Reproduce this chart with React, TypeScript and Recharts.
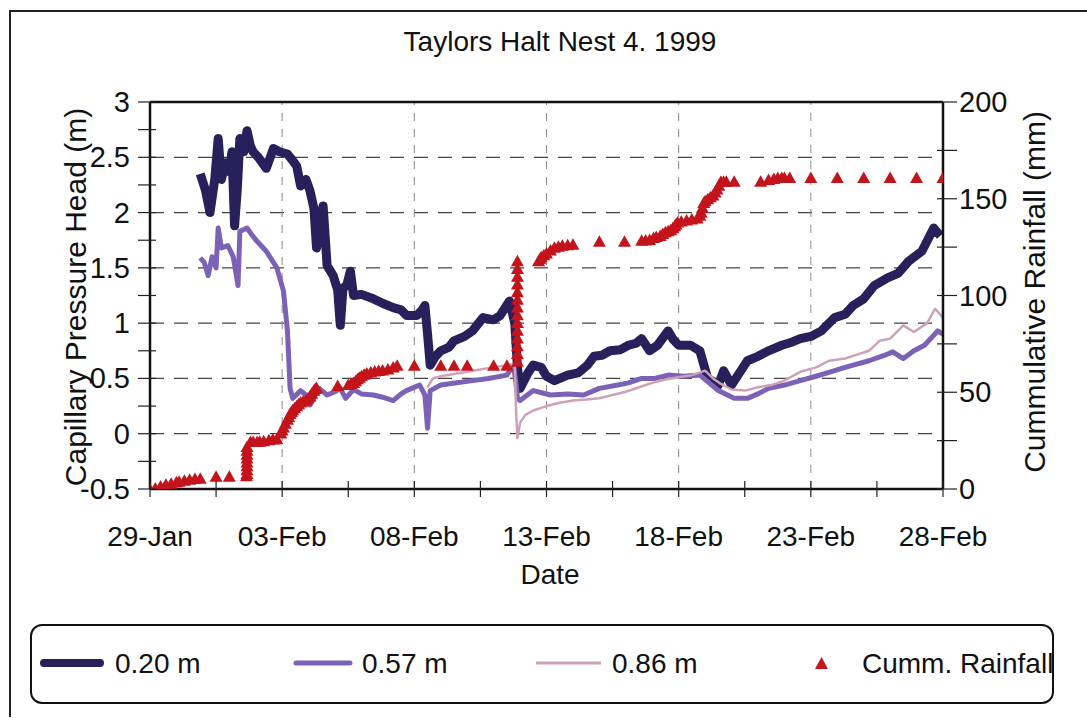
import React from 'react';
import { ComposedChart, Line, Scatter, XAxis, YAxis, ReferenceLine } from 'recharts';

const FONT = "'Liberation Sans', Arial, sans-serif";

// x axis: days after 29-Jan 1999
const dateLabels = ['29-Jan', '03-Feb', '08-Feb', '13-Feb', '18-Feb', '23-Feb', '28-Feb'];
const dayTicks = [0, 2.5, 5, 7.5, 10, 12.5, 15, 17.5, 20, 22.5, 25, 27.5, 30];
const headTicks = [-0.5, -0.25, 0, 0.25, 0.5, 0.75, 1, 1.25, 1.5, 1.75, 2, 2.25, 2.5, 2.75, 3];
const rainTicks = [0, 25, 50, 75, 100, 125, 150, 175, 200];
const headGrid = [0, 0.5, 1, 1.5, 2, 2.5];
const dayGrid = [5, 10, 15, 20, 25];

// 0.20 m tensiometer
const days20 = [1.9, 2.1, 2.27, 2.45, 2.58, 2.7, 2.85, 3.0, 3.1, 3.2, 3.3, 3.4, 3.55, 3.67, 3.8, 3.9, 4.1, 4.4, 4.55, 4.67, 4.9, 5.2, 5.4, 5.55, 5.7, 5.9, 6.05, 6.2, 6.3, 6.45, 6.55, 6.7, 6.93, 7.1, 7.2, 7.3, 7.45, 7.58, 7.7, 8.0, 8.45, 8.8, 9.2, 9.5, 9.7, 10.1, 10.3, 10.4, 10.5, 10.6, 10.8, 11.0, 11.3, 11.5, 11.9, 12.2, 12.6, 13.0, 13.25, 13.6, 13.8, 13.9, 14.0, 14.3, 14.5, 14.8, 15.0, 15.3, 15.8, 16.2, 16.55, 16.8, 17.1, 17.4, 17.8, 18.1, 18.4, 18.6, 18.9, 19.2, 19.6, 19.8, 20.0, 20.45, 20.8, 21.1, 21.5, 21.7, 22.0, 22.3, 22.6, 23.0, 23.4, 23.9, 24.3, 24.6, 25.0, 25.4, 25.9, 26.3, 26.6, 27.0, 27.4, 27.9, 28.3, 28.7, 29.2, 29.65, 29.9];
const head20 = [2.35, 2.2, 2.0, 2.3, 2.67, 2.3, 2.45, 2.37, 2.55, 1.88, 2.2, 2.67, 2.55, 2.74, 2.6, 2.55, 2.5, 2.4, 2.5, 2.58, 2.55, 2.53, 2.47, 2.42, 2.24, 2.3, 2.2, 2.04, 1.68, 1.9, 2.06, 1.52, 1.43, 1.3, 0.98, 1.31, 1.35, 1.47, 1.25, 1.26, 1.22, 1.18, 1.14, 1.12, 1.07, 1.07, 1.12, 1.16, 0.9, 0.62, 0.7, 0.75, 0.78, 0.84, 0.88, 0.93, 1.05, 1.03, 1.07, 1.2, 1.0, 0.6, 0.41, 0.55, 0.62, 0.6, 0.52, 0.48, 0.53, 0.55, 0.62, 0.7, 0.71, 0.75, 0.76, 0.8, 0.82, 0.86, 0.75, 0.8, 0.93, 0.85, 0.8, 0.8, 0.75, 0.5, 0.44, 0.57, 0.44, 0.55, 0.66, 0.7, 0.75, 0.8, 0.83, 0.86, 0.88, 0.93, 1.05, 1.08, 1.16, 1.22, 1.34, 1.41, 1.45, 1.56, 1.65, 1.86, 1.79];

// 0.57 m tensiometer
const days57 = [1.9, 2.05, 2.2, 2.35, 2.5, 2.58, 2.7, 2.95, 3.15, 3.33, 3.4, 3.67, 3.85, 4.05, 4.4, 4.8, 5.05, 5.2, 5.3, 5.4, 5.7, 5.9, 6.06, 6.25, 6.4, 6.7, 7.0, 7.2, 7.4, 7.7, 8.0, 8.45, 8.8, 9.2, 9.5, 9.7, 10.2, 10.4, 10.5, 10.6, 11.0, 11.6, 12.2, 12.8, 13.5, 13.75, 13.85, 13.9, 14.0, 14.5, 15.15, 15.8, 16.4, 17.0, 17.7, 18.1, 18.6, 19.1, 19.6, 20.2, 20.8, 21.2, 21.5, 22.1, 22.6, 23.0, 23.4, 24.0, 24.6, 25.2, 25.9, 26.3, 26.6, 27.2, 27.8, 28.1, 28.5, 28.9, 29.3, 29.8, 30.0];
const head57 = [1.59, 1.55, 1.43, 1.6, 1.5, 1.86, 1.68, 1.7, 1.6, 1.34, 1.83, 1.86, 1.8, 1.74, 1.65, 1.5, 1.29, 0.93, 0.41, 0.32, 0.39, 0.35, 0.26, 0.35, 0.41, 0.35, 0.38, 0.41, 0.32, 0.4, 0.36, 0.35, 0.33, 0.3, 0.36, 0.39, 0.44, 0.35, 0.05, 0.39, 0.44, 0.46, 0.48, 0.5, 0.53, 0.62, 0.45, 0.32, 0.3, 0.39, 0.35, 0.36, 0.35, 0.41, 0.44, 0.46, 0.5, 0.5, 0.53, 0.52, 0.53, 0.45, 0.39, 0.32, 0.32, 0.36, 0.41, 0.44, 0.48, 0.52, 0.57, 0.6, 0.62, 0.66, 0.71, 0.74, 0.68, 0.75, 0.8, 0.93, 0.9];

// 0.86 m tensiometer
const days86 = [10.5, 10.7, 11.0, 11.5, 12.0, 12.5, 13.0, 13.5, 13.8, 13.85, 13.9, 14.0, 14.2, 14.5, 15.0, 15.5, 16.0, 16.5, 17.0, 17.5, 18.0, 18.5, 19.0, 19.5, 20.0, 20.5, 21.0, 21.3, 21.6, 22.0, 22.5, 23.0, 23.5, 24.0, 24.6, 25.2, 25.7, 26.3, 26.8, 27.2, 27.6, 28.0, 28.5, 28.9, 29.4, 29.7, 30.0];
const head86 = [0.42, 0.5, 0.52, 0.54, 0.56, 0.58, 0.6, 0.62, 0.63, 0.2, -0.04, 0.1, 0.17, 0.21, 0.25, 0.28, 0.3, 0.31, 0.32, 0.35, 0.38, 0.42, 0.46, 0.49, 0.51, 0.53, 0.57, 0.5, 0.45, 0.4, 0.39, 0.42, 0.44, 0.48, 0.56, 0.6, 0.66, 0.68, 0.72, 0.75, 0.84, 0.86, 0.98, 0.92, 1.0, 1.13, 1.05];

// cumulative rainfall (mm): [day, mm]
const rainfall: [number, number][] = [
	[0, 0], [0.2, 0.5], [0.4, 1.5], [0.6, 2.5], [0.8, 3], [1.0, 3.8], [1.1, 4], [1.3, 4.5], [1.5, 5], [1.7, 5.4], [1.9, 5.6], [2.5, 6.6], [3.0, 6.6],
	[3.65, 6.8], [3.67, 8], [3.67, 10], [3.67, 12], [3.67, 14], [3.67, 16], [3.67, 18], [3.67, 20], [3.67, 22],
	[3.8, 24.5], [3.9, 24.5], [4.05, 24.5], [4.15, 24.7], [4.3, 25], [4.5, 25.5], [4.65, 25.8], [4.8, 26], [4.95, 29], [5.0, 30.5],
	[5.05, 32], [5.12, 34], [5.2, 36], [5.25, 37.5], [5.3, 39], [5.35, 40], [5.4, 41], [5.47, 42], [5.55, 43], [5.62, 44], [5.7, 45],
	[5.8, 45.5], [5.9, 46], [5.98, 47], [6.05, 48], [6.12, 49.5], [6.2, 51], [6.25, 52], [6.3, 52.5], [7.1, 53.5], [7.5, 54], [7.6, 54.5],
	[7.7, 55], [7.78, 56], [7.85, 57], [7.92, 57.8], [8.0, 58.5], [8.1, 59.3], [8.2, 60], [8.35, 60.5], [8.5, 61], [8.65, 61.2], [8.8, 61.5],
	[9.0, 62], [9.2, 63], [9.35, 64], [10.0, 64], [11.0, 64], [11.5, 64], [12.0, 64], [13.0, 64], [13.5, 64],
	[13.9, 66], [13.9, 70], [13.9, 74], [13.9, 78], [13.9, 82], [13.9, 86], [13.9, 90], [13.9, 94], [13.9, 98], [13.9, 102], [13.9, 106], [13.9, 110], [13.9, 114], [13.9, 118],
	[14.7, 118], [14.75, 119], [14.8, 120], [14.9, 121], [15.0, 122], [15.15, 123.5], [15.3, 125], [15.45, 125.5], [15.6, 126], [15.8, 126.2], [16.0, 126.5],
	[17.0, 128], [17.95, 128], [18.6, 128.5], [18.75, 128.7], [18.9, 129], [19.05, 130], [19.15, 130.5], [19.3, 131], [19.4, 132], [19.5, 133], [19.6, 133.5],
	[19.7, 134], [19.78, 135], [19.85, 136], [19.9, 137], [19.96, 138], [20.1, 138.5], [20.3, 139], [20.5, 139.5], [20.7, 140], [20.8, 141.5], [20.85, 143],
	[20.9, 145.5], [20.95, 148], [21.0, 149], [21.1, 150], [21.2, 151], [21.3, 152], [21.38, 153.5], [21.45, 155], [21.52, 157], [21.6, 159], [21.7, 159],
	[21.8, 159], [22.1, 159], [23.1, 159], [23.4, 160], [23.6, 160.5], [23.75, 161], [23.9, 161], [24.0, 161], [24.2, 161],
	[25, 161], [26, 161], [27, 161], [28, 161], [29, 161], [30, 161],
];

const pairs = (xs: number[], ys: number[]) => xs.map((d, i) => ({ d, v: ys[i] }));

const XTick = (props: any) => {
	const { x, y, payload } = props;
	const idx = payload.value / 5;
	return (
		<g>
			<line x1={x} x2={x} y1={y - 8} y2={y + 8} stroke="#222" strokeWidth={1.2} />
			{Number.isInteger(idx) && (
				<text x={x} y={y + 57} textAnchor="middle" fontSize={28} fill="#111" fontFamily={FONT}>
					{dateLabels[idx]}
				</text>
			)}
		</g>
	);
};

const LeftTick = (props: any) => {
	const { x, y, payload } = props;
	const v = payload.value;
	const major = Number.isInteger(v * 2);
	return (
		<g>
			<line x1={x - 12} x2={x + 6} y1={y} y2={y} stroke="#222" strokeWidth={1.2} />
			{major && (
				<text x={x - 20} y={y + 10} textAnchor="end" fontSize={29} fill="#111" fontFamily={FONT}>
					{String(v)}
				</text>
			)}
		</g>
	);
};

const RightTick = (props: any) => {
	const { x, y, payload } = props;
	const v = payload.value;
	return (
		<g>
			<line x1={x - 6} x2={x + 14} y1={y} y2={y} stroke="#222" strokeWidth={1.2} />
			{v % 50 === 0 && (
				<text x={x + 16} y={y + 10} textAnchor="start" fontSize={29} fill="#111" fontFamily={FONT}>
					{String(v)}
				</text>
			)}
		</g>
	);
};

const Triangle = (props: any) => {
	const { cx, cy } = props;
	return <polygon points={`${cx - 6.5},${cy + 5.5} ${cx + 6.5},${cy + 5.5} ${cx},${cy - 6}`} fill="#c3141c" />;
};

const C20 = '#28205a';
const C57 = '#7c62b6';
const C86 = '#cda2b8';
const CRAIN = '#c3141c';

export default function App() {
	return (
		<div style={{ position: 'absolute', left: 0, top: 0, width: 1087, height: 725, background: '#fff', fontFamily: FONT, overflow: 'hidden' }}>
			<div style={{ position: 'absolute', left: 9, top: 10, width: 1090, height: 705, borderLeft: '2px solid #222', borderTop: '2px solid #222' }} />
			<div style={{ position: 'absolute', left: 0, top: 0 }}>
				<ComposedChart width={1087} height={725} margin={{ top: 102, right: 0, bottom: 0, left: 0 }}>
					<XAxis
						xAxisId="d"
						dataKey="d"
						type="number"
						domain={[0, 30]}
						ticks={dayTicks}
						interval={0}
						height={236}
						tickSize={0}
						tickMargin={0}
						tick={<XTick />}
						axisLine={{ stroke: '#111', strokeWidth: 2.5 }}
						allowDataOverflow
					/>
					<YAxis
						yAxisId="head"
						dataKey="v"
						type="number"
						domain={[-0.5, 3]}
						ticks={headTicks}
						interval={0}
						width={150}
						tickSize={0}
						tickMargin={0}
						tick={<LeftTick />}
						axisLine={{ stroke: '#111', strokeWidth: 2.5 }}
						allowDataOverflow
					/>
					<YAxis
						yAxisId="rain"
						orientation="right"
						dataKey="v"
						type="number"
						domain={[0, 200]}
						ticks={rainTicks}
						interval={0}
						width={144}
						tickSize={0}
						tickMargin={0}
						tick={<RightTick />}
						axisLine={{ stroke: '#111', strokeWidth: 2.5 }}
						allowDataOverflow
					/>
					{headGrid.map((g) => (
						<ReferenceLine key={'h' + g} xAxisId="d" yAxisId="head" y={g} stroke="#444" strokeWidth={1.2} strokeDasharray="14 10" />
					))}
					{dayGrid.map((g) => (
						<ReferenceLine key={'v' + g} xAxisId="d" yAxisId="head" x={g} stroke="#888" strokeWidth={1} strokeDasharray="8 8" />
					))}
					<ReferenceLine xAxisId="d" yAxisId="head" y={3} stroke="#111" strokeWidth={2.5} />
					<Line
						xAxisId="d"
						yAxisId="head"
						data={pairs(days20, head20)}
						dataKey="v"
						name="0.20 m"
						stroke={C20}
						strokeWidth={9}
						strokeLinejoin="round"
						dot={false}
						isAnimationActive={false}
					/>
					<Line
						xAxisId="d"
						yAxisId="head"
						data={pairs(days57, head57)}
						dataKey="v"
						name="0.57 m"
						stroke={C57}
						strokeWidth={5}
						strokeLinejoin="round"
						dot={false}
						isAnimationActive={false}
					/>
					<Line
						xAxisId="d"
						yAxisId="head"
						data={pairs(days86, head86)}
						dataKey="v"
						name="0.86 m"
						stroke={C86}
						strokeWidth={2.5}
						strokeLinejoin="round"
						dot={false}
						isAnimationActive={false}
					/>
					<Scatter
						xAxisId="d"
						yAxisId="rain"
						data={rainfall.map(([d, v]) => ({ d, v }))}
						dataKey="v"
						name="Cumm. Rainfall"
						fill={CRAIN}
						shape={<Triangle />}
						isAnimationActive={false}
					/>
				</ComposedChart>
			</div>
			<svg width={1087} height={725} style={{ position: 'absolute', left: 0, top: 0, pointerEvents: 'none' }}>
				<text x={560} y={51} textAnchor="middle" fontSize={28} fill="#111" fontFamily={FONT}>
					Taylors Halt Nest 4. 1999
				</text>
				<text x={550} y={584} textAnchor="middle" fontSize={28} fill="#111" fontFamily={FONT}>
					Date
				</text>
				<text transform="translate(86,297) rotate(-90)" textAnchor="middle" fontSize={30} fill="#111" fontFamily={FONT}>
					Capillary Pressure Head (m)
				</text>
				<text transform="translate(1045,292) rotate(-90)" textAnchor="middle" fontSize={30} fill="#111" fontFamily={FONT}>
					Cummulative Rainfall (mm)
				</text>
			</svg>
			<div style={{ position: 'absolute', left: 30, top: 624, width: 1020, height: 76, border: '2px solid #111', borderRadius: 12 }} />
			<svg width={1087} height={725} style={{ position: 'absolute', left: 0, top: 0, pointerEvents: 'none' }}>
				<line x1={44} x2={100} y1={663} y2={663} stroke={C20} strokeWidth={8} strokeLinecap="round" />
				<text x={115} y={673} fontSize={28} fill="#111" fontFamily={FONT}>0.20 m</text>
				<line x1={296} x2={350} y1={663} y2={663} stroke={C57} strokeWidth={5} strokeLinecap="round" />
				<text x={362} y={673} fontSize={28} fill="#111" fontFamily={FONT}>0.57 m</text>
				<line x1={536} x2={601} y1={663} y2={663} stroke={C86} strokeWidth={3} />
				<text x={612} y={673} fontSize={28} fill="#111" fontFamily={FONT}>0.86 m</text>
				<polygon points="815,669 828,669 821.5,657" fill={CRAIN} />
				<text x={862} y={673} fontSize={28} fill="#111" fontFamily={FONT}>Cumm. Rainfall</text>
			</svg>
		</div>
	);
}
